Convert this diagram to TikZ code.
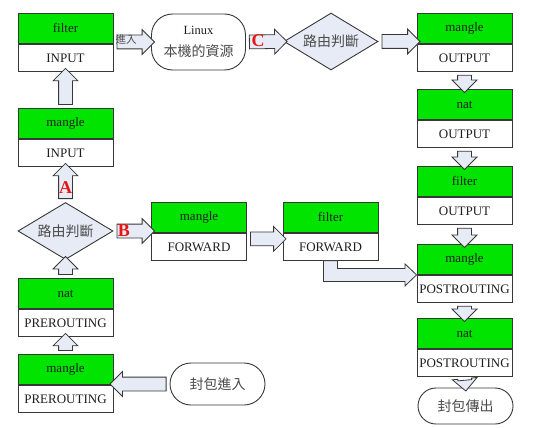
\documentclass[tikz,border=0pt]{standalone}
\usepackage{fontspec}
\setmainfont{Liberation Serif}
\newfontfamily\cjk{Noto Sans CJK TC}
\usetikzlibrary{shapes.geometric,shapes.arrows,calc}

\definecolor{boxgreen}{RGB}{0,228,0}
\definecolor{pale}{RGB}{230,235,246}
\definecolor{edge}{RGB}{55,55,55}
\definecolor{ink}{RGB}{30,30,30}
\definecolor{cjkink}{RGB}{75,75,75}
\definecolor{mark}{RGB}{235,20,20}

\tikzset{
  chainhead/.style={draw=edge, fill=boxgreen, line width=0.9pt,
    minimum width=95pt, minimum height=30pt, inner sep=0pt, anchor=north,
    font=\fontsize{13}{15}\selectfont, text=ink},
  chainname/.style={draw=edge, fill=white, line width=0.9pt,
    minimum width=95pt, minimum height=27pt, inner sep=0pt, anchor=north,
    font=\fontsize{13}{15}\selectfont, text=ink},
  decision/.style={diamond, draw=edge, fill=pale, line width=0.9pt, aspect=1.7,
    minimum width=95pt, minimum height=57pt, inner sep=0pt,
    font=\cjk\fontsize{14}{16}\selectfont, text=cjkink},
  terminal/.style={rectangle, rounded corners=21pt, draw=edge, line width=0.9pt,
    fill=white, minimum width=94pt, inner sep=0pt, align=center,
    font=\cjk\fontsize{14}{16}\selectfont, text=cjkink},
  blockarrow/.style={single arrow, draw=edge, fill=pale, line width=0.8pt,
    inner xsep=0pt, inner ysep=6.5pt, single arrow head extend=5.5pt,
    minimum width=24pt},
  elbowarrow/.style={draw=edge, fill=pale, line width=0.8pt, line join=miter},
  tag/.style={text=mark, inner sep=0pt, font=\bfseries\fontsize{18}{18}\selectfont},
  smallnote/.style={text=cjkink, inner sep=0pt, font=\cjk\fontsize{10.5}{12}\selectfont}
}

% straight block arrow from one point to another
\newcommand\flowarrow[2]{%
  \path let \p1=(#1), \p2=(#2),
            \n1={atan2(\y2-\y1,\x2-\x1)}, \n2={veclen(\x2-\x1,\y2-\y1)} in
    node[blockarrow, minimum height=\n2*1pt, rotate=\n1] at ($(\p1)!0.5!(\p2)$) {};%
}

\begin{document}
\begin{tikzpicture}[x=1pt,y=-1pt]
\useasboundingbox (0,0) rectangle (535,428);

% left column: incoming packets
\node[chainhead] (mpreT) at (65.5,354) {mangle};
\node[chainname] (mpreB) at (mpreT.south) {PREROUTING};
\node[chainhead] (npreT) at (65.5,278) {nat};
\node[chainname] (npreB) at (npreT.south) {PREROUTING};
\node[decision]  (rtL)   at (65.5,231) {路由判斷};
\node[chainhead] (minT)  at (65.5,108) {mangle};
\node[chainname] (minB)  at (minT.south) {INPUT};
\node[chainhead] (finT)  at (65.5,13) {filter};
\node[chainname] (finB)  at (finT.south) {INPUT};

% forwarding path
\node[chainhead] (mfwdT) at (199,202) {mangle};
\node[chainname] (mfwdB) at (mfwdT.south) {FORWARD};
\node[chainhead] (ffwdT) at (330.5,202) {filter};
\node[chainname] (ffwdB) at (ffwdT.south) {FORWARD};

% local host and output routing
\node[terminal, minimum height=56pt, font=\fontsize{12.5}{22}\selectfont, text=ink]
  (host) at (198.5,42) {Linux\\{\cjk\fontsize{14}{22}\selectfont\color{cjkink}本機的資源}};
\node[decision, minimum width=94pt] (rtT) at (331,41.5) {路由判斷};

% right column: outgoing packets
\node[chainhead] (moutT)  at (464.5,13) {mangle};
\node[chainname] (moutB)  at (moutT.south) {OUTPUT};
\node[chainhead] (noutT)  at (464.5,89) {nat};
\node[chainname] (noutB)  at (noutT.south) {OUTPUT};
\node[chainhead] (foutT)  at (464.5,166) {filter};
\node[chainname] (foutB)  at (foutT.south) {OUTPUT};
\node[chainhead] (mpostT) at (464.5,244) {mangle};
\node[chainname] (mpostB) at (mpostT.south) {POSTROUTING};
\node[chainhead] (npostT) at (464.5,318) {nat};
\node[chainname] (npostB) at (npostT.south) {POSTROUTING};

% packet entry and exit
\node[terminal, minimum height=42pt, minimum width=95pt] (pktin) at (217.5,384) {封包進入};
\node[terminal, minimum height=36pt, minimum width=95pt, rounded corners=18pt] (pktout) at (465.5,406) {封包傳出};

% incoming path
\flowarrow{pktin.west}{mpreT.south east |- pktin.west}
\flowarrow{mpreT.north}{npreB.south}
\flowarrow{npreT.north}{rtL.south}
\flowarrow{rtL.north}{minB.south}
\flowarrow{minT.north}{finB.south}
\flowarrow{finT.south east |- host.west}{host.west}
\flowarrow{host.east}{rtT.west}
\flowarrow{rtT.east}{moutT.south west |- rtT.east}

% forwarding path
\flowarrow{rtL.east}{mfwdT.south west |- rtL.east}
\coordinate (fwdA) at ($(mfwdB.north east)+(0,6)$);
\coordinate (fwdB) at ($(ffwdB.north west)+(0,6)$);
\flowarrow{fwdA}{fwdB}
\path[elbowarrow] let \p1=(ffwdB.south), \p2=(mpostT.south west) in
  (\x1-7pt,\y1) -- (\x1-7pt,\y2-6.5pt) -- (\x2-11.5pt,\y2-6.5pt)
  -- (\x2-11.5pt,\y2-11pt) -- (\p2) -- (\x2-11.5pt,\y2+11pt)
  -- (\x2-11.5pt,\y2+6.5pt) -- (\x1+7pt,\y2+6.5pt) -- (\x1+7pt,\y1) -- cycle;

% output path
\flowarrow{moutB.south}{noutT.north}
\flowarrow{noutB.south}{foutT.north}
\flowarrow{foutB.south}{mpostT.north}
\flowarrow{mpostB.south}{npostT.north}
\flowarrow{npostB.south}{pktout.north}

% labels on the arrows
\node[smallnote] (enter) at (126,40) {進入};
\node[tag] (tagA) at (65.5,188) {A};
\node[tag] (tagB) at (124,231) {B};
\node[tag] (tagC) at (258,41) {C};
\end{tikzpicture}
\end{document}
